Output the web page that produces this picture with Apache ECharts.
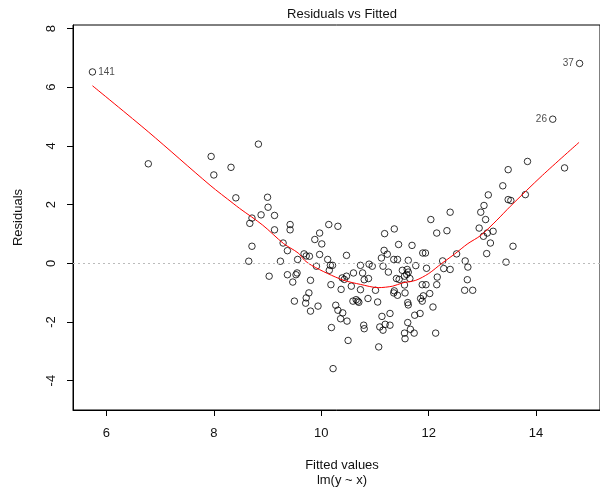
<!DOCTYPE html>
<html>
<head>
<meta charset="utf-8">
<script src="https://cdn.jsdelivr.net/npm/echarts@6/dist/echarts.min.js"></script>
<style>
html,body{margin:0;padding:0;background:#fff;}
#chart{width:600px;height:490px;}
</style>
</head>
<body>
<div id="chart"></div>
<script>
// Fitted values (x) and residuals (y)
const fittedX = [6.78,7.95,8.00,8.32,8.83,8.41,9.00,9.01,8.88,9.13,8.71,8.67,8.71,8.65,
9.42,9.42,9.13,9.29,9.37,9.68,9.72,9.78,9.24,9.56,9.03,9.37,9.53,9.55,9.47,9.50,
9.97,9.88,10.01,9.97,9.91,9.80,9.77,9.72,9.71,9.94,9.80,
10.14,10.31,10.12,10.47,10.17,10.21,10.15,10.18,10.37,10.39,10.43,10.47,10.56,10.60,10.73,10.77,10.80,10.88,10.89,10.95,
10.73,10.59,10.65,10.68,10.70,10.87,11.05,11.01,10.27,10.31,10.40,10.36,10.48,10.19,10.50,10.79,10.80,10.22,11.07,
11.13,11.09,11.15,11.19,11.28,11.28,11.18,11.36,11.44,11.17,11.23,11.12,11.15,11.25,11.35,11.42,11.40,11.45,11.36,11.35,11.42,
13.38,13.11,13.03,12.97,12.40,13.06,12.04,12.94,13.20,13.09,13.02,12.34,12.15,13.15,11.69,13.08,12.52,11.89,11.94,11.62,
12.26,12.68,13.44,11.76,11.96,12.73,12.28,12.40,11.51,11.60,11.62,11.59,11.55,11.65,12.16,12.72,11.88,11.95,12.15,11.55,
12.67,12.82,11.56,12.02,11.90,11.85,11.88,11.61,11.62,12.08,11.84,11.74,11.61,11.66,11.73,11.55,11.56,12.13,
13.84,14.53,13.48,13.80,13.48,13.53,13.57];
const residY = [3.39,3.64,3.01,3.27,4.06,2.23,2.25,1.91,1.65,1.63,1.54,1.36,0.58,0.07,
1.32,1.14,1.14,0.69,0.43,0.32,0.25,0.24,0.07,0.13,-0.44,-0.39,-0.39,-0.33,-0.64,-1.29,
1.03,0.81,0.66,0.30,-0.10,-0.58,-1.01,-1.18,-1.36,-1.46,-1.63,
1.32,1.26,0.13,0.27,-0.07,-0.07,-0.24,-0.73,-0.89,-0.50,-0.55,-0.44,-0.78,-0.33,-0.07,-0.33,-0.56,-0.52,-0.03,-0.10,
-0.90,-1.29,-1.24,-1.29,-1.33,-1.20,-1.32,-0.92,-1.43,-1.60,-1.69,-1.89,-1.97,-2.19,-2.63,-2.11,-2.23,-3.59,-2.85,
-1.81,-2.17,-2.28,-2.08,-2.11,-1.71,1.01,1.17,0.64,0.44,0.31,0.18,-0.10,-0.30,0.13,0.13,-0.52,-0.55,-0.94,-1.01,-1.09,
2.64,2.33,1.97,1.74,1.74,1.49,1.49,1.20,1.09,1.03,0.92,1.11,1.03,0.69,0.61,0.33,0.32,0.35,0.35,0.10,
0.08,0.08,0.04,-0.08,-0.17,-0.13,-0.18,-0.21,-0.24,-0.21,-0.30,-0.38,-0.44,-0.52,-0.47,-0.56,-0.73,-0.73,-0.73,-0.74,
-0.92,-0.92,-1.01,-1.03,-1.11,-1.20,-1.29,-1.34,-1.42,-1.49,-1.71,-1.77,-2.02,-2.25,-2.38,-2.38,-2.57,-2.38,
3.47,3.25,3.19,2.34,2.17,2.14,0.58];

// Labelled extreme observations
const labelIds = ['141','37','26'];
const labelX = [5.74, 14.81, 14.31];
const labelY = [6.52, 6.81, 4.91];

// Smoothed (red) curve
const smoothX = [5.74,6.78,7.93,8.36,8.48,8.91,9.30,9.57,9.69,9.82,10.12,10.42,10.73,11.06,11.33,11.51,11.76,12.00,12.24,12.48,12.73,12.97,13.27,13.52,14.12,14.80];
const smoothY = [6.05,4.48,2.66,2.04,1.87,1.30,0.67,0.35,0.10,-0.07,-0.35,-0.58,-0.72,-0.83,-0.78,-0.67,-0.58,-0.35,-0.01,0.31,0.67,0.95,1.47,1.94,3.00,4.12];

const xTicks = [6,8,10,12,14];
const yTicks = [-4,-2,0,2,4,6,8];

const FONT = 'Liberation Sans, Arial, sans-serif';
const FS = 13;
const chart = echarts.init(document.getElementById('chart'), null, {renderer:'canvas'});

const pts = fittedX.map((x,i)=>[x, residY[i]]);
const lab = labelX.map((x,i)=>({value:[x,labelY[i]], name:labelIds[i],
  label:{show:true, formatter:labelIds[i], position: i===0?'right':'left', distance:2,
         fontSize:10, fontFamily:FONT, color:'#222'}}));
const sm = smoothX.map((x,i)=>[x, smoothY[i]]);

chart.setOption({
  animation:false,
  backgroundColor:'#fff',
  title:[
    {text:'Residuals vs Fitted', left:342, top:8, textAlign:'center', padding:0,
     textStyle:{fontSize:FS, fontWeight:'normal', fontFamily:FONT, color:'#111'}},
    {text:'Fitted values', left:342, top:459, textAlign:'center', padding:0,
     textStyle:{fontSize:FS, fontWeight:'normal', fontFamily:FONT, color:'#111'}},
    {text:'lm(y ~ x)', left:342, top:474, textAlign:'center', padding:0,
     textStyle:{fontSize:FS, fontWeight:'normal', fontFamily:FONT, color:'#111'}}
  ],
  grid:{left:73, top:25, right:-12, bottom:80, show:true, borderColor:'#000', borderWidth:1, backgroundColor:'transparent'},
  xAxis:{type:'value', min:5.378, max:15.19,
    axisLine:{show:true, onZero:false, lineStyle:{color:'#000', width:1}},
    axisTick:{show:true, length:6, customValues:xTicks, lineStyle:{color:'#000'}},
    axisLabel:{customValues:xTicks, margin:17, fontSize:FS, fontFamily:FONT, color:'#111'},
    splitLine:{show:false}},
  yAxis:{type:'value', min:-5.0, max:8.12,
    name:'Residuals', nameLocation:'middle', nameGap:48, nameRotate:90,
    nameTextStyle:{fontSize:FS, fontFamily:FONT, color:'#111'},
    axisLine:{show:true, onZero:false, lineStyle:{color:'#000', width:1}},
    axisTick:{show:true, length:6, customValues:yTicks, lineStyle:{color:'#000'}},
    axisLabel:{customValues:yTicks, rotate:90, margin:15, fontSize:FS, fontFamily:FONT, color:'#111', align:'center', verticalAlign:'bottom'},
    splitLine:{show:false}},
  series:[
    {type:'scatter', data:pts, symbol:'circle', symbolSize:6.5,
     itemStyle:{color:'rgba(0,0,0,0)', borderColor:'#000', borderWidth:1},
     markLine:{silent:true, symbol:'none', label:{show:false},
       lineStyle:{color:'#bbb', type:[2,3], width:1}, data:[{yAxis:0}]},
     z:3},
    {type:'scatter', data:lab, symbol:'circle', symbolSize:6.5,
     itemStyle:{color:'rgba(0,0,0,0)', borderColor:'#000', borderWidth:1}, z:3},
    {type:'line', data:sm, showSymbol:false, smooth:0.3,
     lineStyle:{color:'#ff0000', width:1}, z:4}
  ]
});
</script>
</body>
</html>
